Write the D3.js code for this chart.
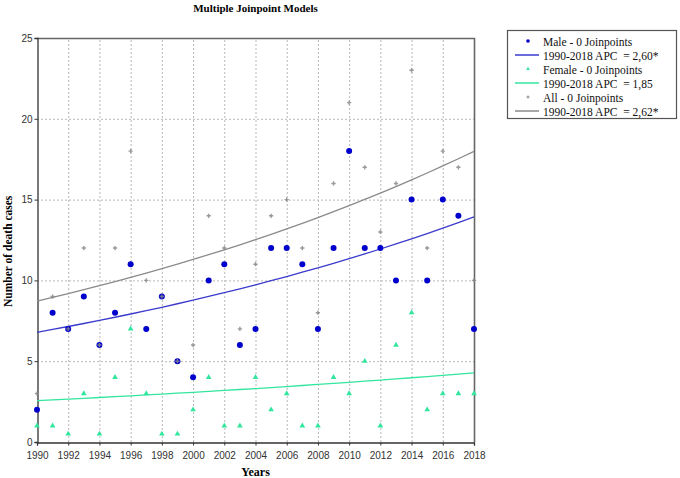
<!DOCTYPE html>
<html>
<head>
<meta charset="utf-8">
<script src="https://cdn.jsdelivr.net/npm/d3@7"></script>
<style>
  body { margin: 0; background: #fff; }
  svg { display: block; }
  .tick text { font-family: "Liberation Sans", Arial, sans-serif; font-size: 10px; fill: #333; }
  .serif { font-family: "Liberation Serif", "Times New Roman", serif; white-space: pre; }
</style>
</head>
<body>
<svg id="chart" width="680" height="478"></svg>
<script>
// data
var years = d3.range(1990, 2019);
var male   = [2, 8, 7, 9, 6, 8, 11, 7, 9, 5, 4, 10, 11, 6, 7, 12, 12, 11, 7, 12, 18, 12, 12, 10, 15, 10, 15, 14, 7];
// zero counts are plotted at 0.5 by the program
var female = [1, 1, 0.5, 3, 0.5, 4, 7, 3, 0.5, 0.5, 2, 4, 1, 1, 4, 2, 3, 1, 1, 4, 3, 5, 1, 6, 8, 2, 3, 3, 3];
var all    = [3, 9, 7, 12, 6, 12, 18, 10, 9, 5, 6, 14, 12, 7, 11, 14, 15, 12, 8, 16, 21, 17, 13, 16, 23, 12, 18, 17, 10];

// fitted log-linear models: value at 1990 and annual percent change
var fitNames  = ["male", "female", "all"];
var fitStart  = [6.79, 2.56, 8.72];
var fitApc    = [2.60, 1.85, 2.62];

var legendLabels = ["Male - 0 Joinpoints", "1990-2018 APC  = 2,60*",
                    "Female - 0 Joinpoints", "1990-2018 APC  = 1,85",
                    "All - 0 Joinpoints", "1990-2018 APC  = 2,62*"];
var yTicks = [0, 5, 10, 15, 20, 25];
var xTicks = d3.range(1990, 2019, 2);

var colors = { male: "#0000cc", maleLine: "#3a3acc", female: "#33e69e", all: "#888", allLine: "#8a8a8a" };

var svg = d3.select("#chart");
var margin = { left: 37, right: 206, top: 38, bottom: 36 };
var W = 680, H = 478;

var x = d3.scaleLinear().domain([1990, 2018]).range([margin.left, W - margin.right]);
var y = d3.scaleLinear().domain([0, 25]).range([H - margin.bottom, margin.top]);

// grid
var grid = svg.append("g").attr("stroke", "#b8b8b8").attr("stroke-dasharray", "2,2").attr("stroke-width", 1);
grid.selectAll("line.v").data(xTicks.slice(1, -1)).enter().append("line")
  .attr("x1", d => x(d) + 0.5).attr("x2", d => x(d) + 0.5)
  .attr("y1", y(0)).attr("y2", y(25));
grid.selectAll("line.h").data(yTicks.slice(1, -1)).enter().append("line")
  .attr("x1", x(1990)).attr("x2", x(2018))
  .attr("y1", d => y(d) + 0.5).attr("y2", d => y(d) + 0.5);

// frame top/right
svg.append("path")
  .attr("d", "M" + x(1990) + "," + (y(25) + 0.5) + "H" + (x(2018) + 0.5) + "V" + y(0))
  .attr("fill", "none").attr("stroke", "#666").attr("stroke-width", 1.6);

// axes
var xAxis = svg.append("g").attr("transform", "translate(0," + (y(0) + 0.5) + ")")
  .call(d3.axisBottom(x).tickValues(xTicks).tickFormat(d3.format("d")).tickSize(3).tickPadding(6));
var yAxis = svg.append("g").attr("transform", "translate(" + (x(1990) + 0.5) + ",0)")
  .call(d3.axisLeft(y).tickValues(yTicks).tickSize(3).tickPadding(2));
[xAxis, yAxis].forEach(function(a) {
  a.select(".domain").attr("stroke", "#333").attr("stroke-width", 1.3);
  a.selectAll(".tick line").attr("stroke", "#333");
});

// fitted curves
var line = d3.line().x(d => x(d[0])).y(d => y(d[1]));
var lineColors = [colors.maleLine, colors.female, colors.allLine];
fitNames.forEach(function(n, i) {
  var pts = years.map(function(yr) { return [yr, fitStart[i] * Math.pow(1 + fitApc[i] / 100, yr - 1990)]; });
  svg.append("path").datum(pts).attr("d", line)
    .attr("fill", "none").attr("stroke", lineColors[i]).attr("stroke-width", 1.3);
});

// points
var tri = d3.symbol().type(d3.symbolTriangle).size(14);
var plus = d3.symbol().type(d3.symbolCross).size(10);

svg.append("g").selectAll("circle").data(male).enter().append("circle")
  .attr("cx", (d, i) => x(years[i])).attr("cy", d => y(d)).attr("r", 3)
  .attr("fill", colors.male);

svg.append("g").selectAll("path").data(female).enter().append("path")
  .attr("d", tri).attr("transform", (d, i) => "translate(" + x(years[i]) + "," + y(d) + ")")
  .attr("fill", colors.female);

svg.append("g").selectAll("path").data(all).enter().append("path")
  .attr("d", plus).attr("transform", (d, i) => "translate(" + x(years[i]) + "," + y(d) + ")")
  .attr("fill", colors.all).attr("opacity", 0.85);

// titles
svg.append("text").attr("class", "serif").attr("x", (x(1990) + x(2018)) / 2).attr("y", 12)
  .attr("text-anchor", "middle").attr("font-size", 11).attr("font-weight", "bold")
  .text("Multiple Joinpoint Models");
svg.append("text").attr("class", "serif").attr("x", (x(1990) + x(2018)) / 2).attr("y", 476)
  .attr("text-anchor", "middle").attr("font-size", 12).attr("font-weight", "bold")
  .text("Years");
svg.append("text").attr("class", "serif")
  .attr("transform", "translate(12," + y(11.8) + ") rotate(-90)")
  .attr("text-anchor", "middle").attr("font-size", 11.5).attr("font-weight", "bold")
  .text("Number of death cases");

// legend
var lg = svg.append("g").attr("transform", "translate(507,30)");
lg.append("rect").attr("x", 0.5).attr("y", 0.5).attr("width", 169).attr("height", 88)
  .attr("fill", "#fff").attr("stroke", "#555").attr("stroke-width", 1.2);
legendLabels.forEach(function(t, i) {
  var yy = 12 + i * 14;
  var k = Math.floor(i / 2);
  if (i % 2 === 0) {
    if (k === 0) lg.append("circle").attr("cx", 21).attr("cy", yy - 1).attr("r", 1.8).attr("fill", colors.male);
    if (k === 1) lg.append("path").attr("d", d3.symbol().type(d3.symbolTriangle).size(6))
      .attr("transform", "translate(21," + (yy - 1) + ")").attr("fill", colors.female);
    if (k === 2) lg.append("path").attr("d", d3.symbol().type(d3.symbolCross).size(5))
      .attr("transform", "translate(21," + (yy - 1) + ")").attr("fill", colors.all);
  } else {
    lg.append("line").attr("x1", 8).attr("x2", 32).attr("y1", yy - 1).attr("y2", yy - 1)
      .attr("stroke", lineColors[k]).attr("stroke-width", 1.5);
  }
  lg.append("text").attr("class", "serif").attr("x", 36).attr("y", yy + 3.5)
    .attr("font-size", 11.5).attr("fill", "#111").text(t);
});
</script>
</body>
</html>
